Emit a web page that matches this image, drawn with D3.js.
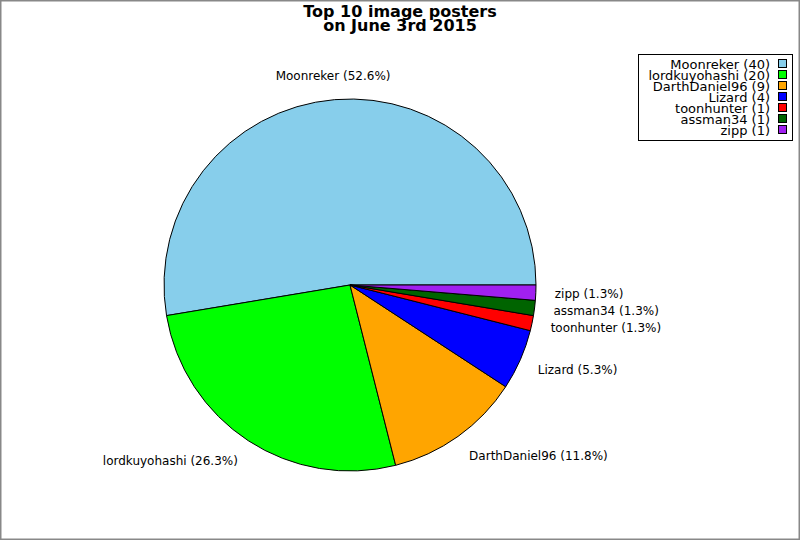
<!DOCTYPE html>
<html>
<head>
<meta charset="utf-8">
<script src="https://cdn.jsdelivr.net/npm/d3@7"></script>
<style>
  body { margin: 0; background: #fff; }
  text { font-family: "DejaVu Sans", sans-serif; }
</style>
</head>
<body>
<script>
// données du graphique
const noms = ['Moonreker', 'lordkuyohashi', 'DarthDaniel96', 'Lizard', 'toonhunter', 'assman34', 'zipp'];
const valeurs = [40, 20, 9, 4, 1, 1, 1];
const couleurs = ['#87ceeb', '#00ff00', '#ffa500', '#0000ff', '#ff0000', '#006400', '#a020f0'];
const titre = ['Top 10 image posters', 'on June 3rd 2015'];

const largeur = 800, hauteur = 540;
const cx = 350, cy = 285, rayon = 186, rayonLabel = 205;

const canevas = d3.select('body')
  .append('svg')
  .attr('width', largeur)
  .attr('height', hauteur);

// cadre gris
canevas.append('rect')
  .attr('x', 0.75).attr('y', 0.75)
  .attr('width', largeur - 1.5).attr('height', hauteur - 1.5)
  .attr('fill', 'white')
  .attr('stroke', '#888')
  .attr('stroke-width', 1.5);

// titre
canevas.append('text')
  .attr('x', 400).attr('y', 17)
  .attr('text-anchor', 'middle')
  .attr('font-size', 16).attr('font-weight', 'bold')
  .selectAll('tspan')
  .data(titre)
  .join('tspan')
    .attr('x', 400)
    .attr('dy', (d, i) => i === 0 ? 0 : 13.5)
    .text(d => d);

const total = d3.sum(valeurs);
const donnees = noms.map((n, i) => ({ nom: n, valeur: valeurs[i], couleur: couleurs[i] }));

// départ à 3h, sens anti-horaire
const pie = d3.pie()
  .value(d => d.valeur)
  .sort(null)
  .startAngle(Math.PI / 2)
  .endAngle(Math.PI / 2 - 2 * Math.PI);

const arc = d3.arc().innerRadius(0).outerRadius(rayon);
const arcs = pie(donnees);

const g = canevas.append('g').attr('transform', `translate(${cx},${cy})`);

g.selectAll('path')
  .data(arcs)
  .join('path')
  .attr('d', arc)
  .attr('fill', d => d.data.couleur)
  .attr('stroke', 'black')
  .attr('stroke-width', 1);

// étiquettes
const fmt = d3.format('.1f');
g.selectAll('text.etiquette')
  .data(arcs)
  .join('text')
  .attr('class', 'etiquette')
  .attr('font-size', 12)
  .each(function (d) {
    const a = (d.startAngle + d.endAngle) / 2;
    const ux = Math.sin(a), uy = -Math.cos(a);
    const x = rayonLabel * ux, y = rayonLabel * uy + 5 * uy;
    d3.select(this)
      .attr('x', x)
      .attr('y', y)
      .attr('dy', '0.35em')
      .attr('text-anchor', Math.abs(ux) < 0.2 ? 'middle' : (ux < 0 ? 'end' : 'start'));
  })
  .text(d => `${d.data.nom} (${fmt(d.data.valeur / total * 100)}%)`);

// légende
const legende = canevas.append('g');
legende.append('rect')
  .attr('x', 638.5).attr('y', 54.5)
  .attr('width', 154).attr('height', 86)
  .attr('fill', 'white')
  .attr('stroke', 'black');

const lignes = legende.selectAll('g.ligne')
  .data(donnees)
  .join('g')
  .attr('class', 'ligne')
  .attr('transform', (d, i) => `translate(0,${64 + i * 11})`);

lignes.append('text')
  .attr('x', 770)
  .attr('dy', '0.35em')
  .attr('text-anchor', 'end')
  .attr('font-size', 13)
  .text(d => `${d.nom} (${d.valeur})`);

lignes.append('rect')
  .attr('x', 778.5).attr('y', -4.5)
  .attr('width', 8).attr('height', 8)
  .attr('fill', d => d.couleur)
  .attr('stroke', 'black');
</script>
</body>
</html>
